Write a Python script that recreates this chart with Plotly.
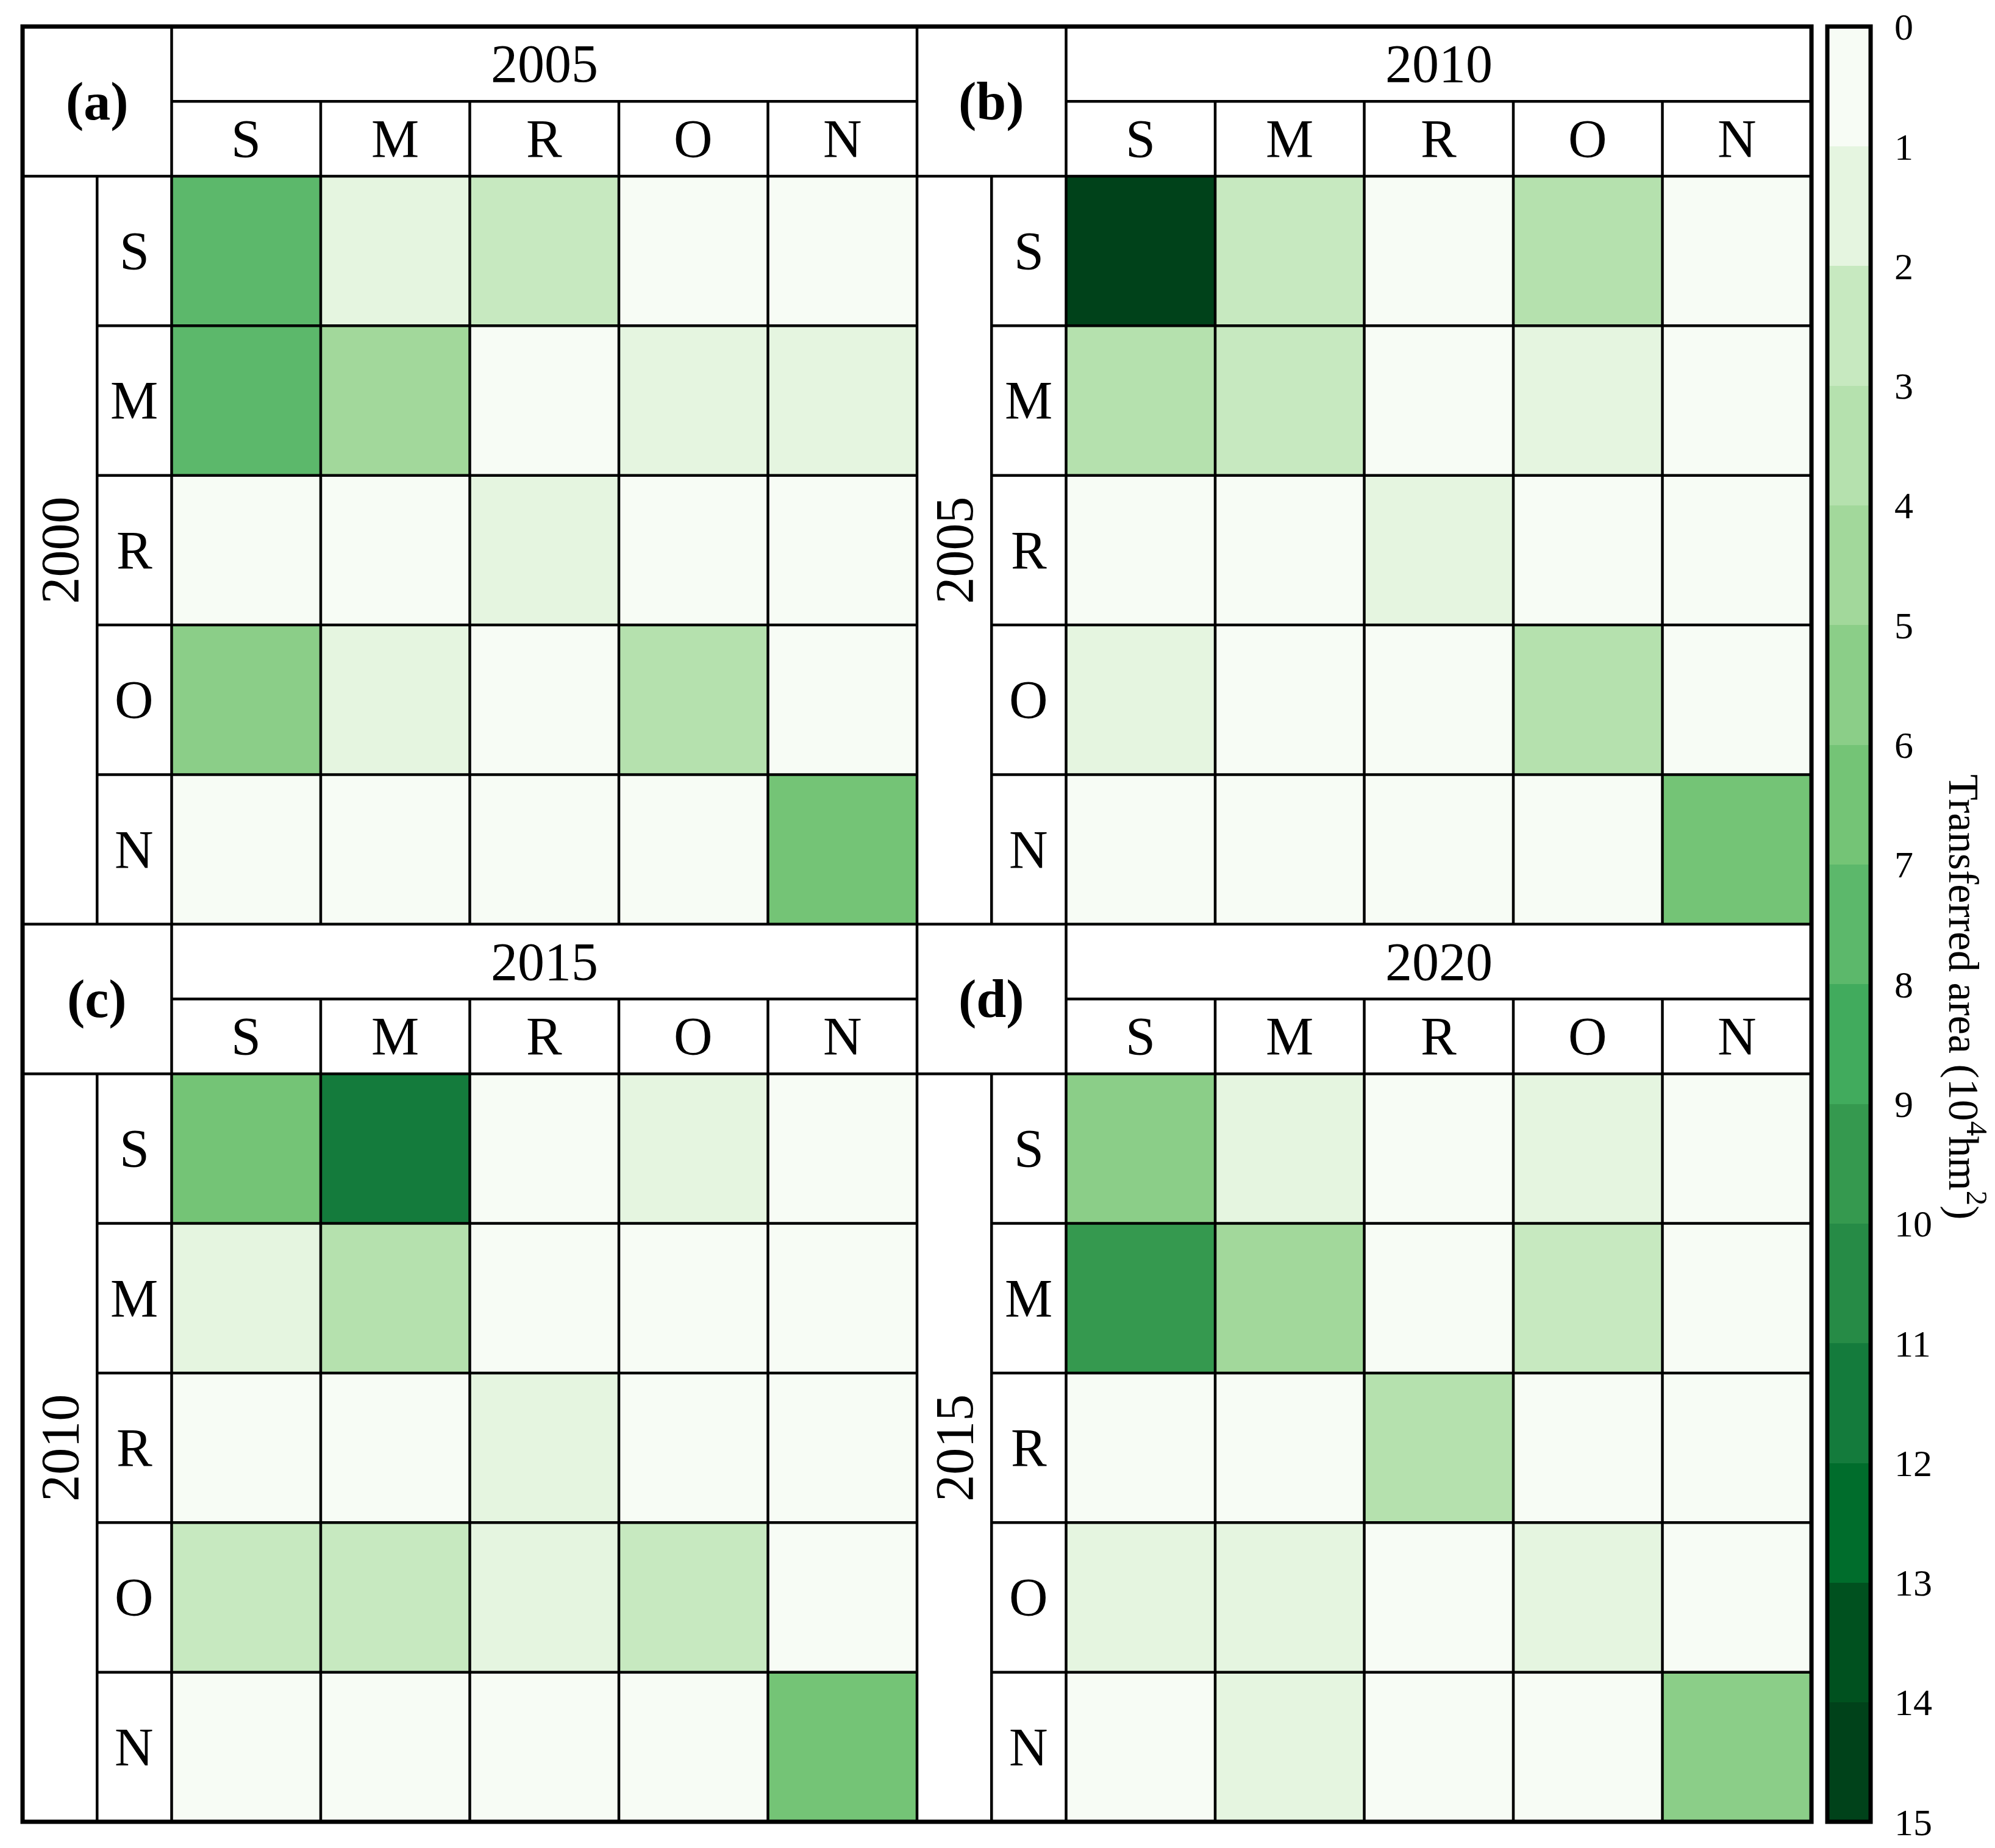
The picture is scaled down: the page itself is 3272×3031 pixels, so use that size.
import plotly.graph_objects as go

# land-use classes and period labels
classes = ["S", "M", "R", "O", "N"]
panel_letters = ["(a)", "(b)", "(c)", "(d)"]
from_years = ["2000", "2005", "2010", "2015"]
to_years = ["2005", "2010", "2015", "2020"]

# transfer matrices (10^4 hm2), rows = from class, cols = to class
mat_a = [
    [7.6, 1.4, 2.5, 0.4, 0.3],
    [7.7, 4.5, 0.4, 1.3, 1.2],
    [0.3, 0.4, 1.5, 0.3, 0.2],
    [5.6, 1.4, 0.3, 3.4, 0.4],
    [0.2, 0.3, 0.2, 0.3, 6.6],
]
mat_b = [
    [14.6, 2.5, 0.4, 3.3, 0.3],
    [3.4, 2.6, 0.3, 1.4, 0.4],
    [0.3, 0.3, 1.5, 0.4, 0.3],
    [1.5, 0.4, 0.3, 3.5, 0.4],
    [0.2, 0.3, 0.2, 0.3, 6.5],
]
mat_c = [
    [6.5, 11.6, 0.4, 1.3, 0.3],
    [1.4, 3.4, 0.3, 0.4, 0.3],
    [0.3, 0.4, 1.5, 0.3, 0.3],
    [2.4, 2.6, 1.5, 2.5, 0.4],
    [0.2, 0.3, 0.3, 0.4, 6.6],
]
mat_d = [
    [5.5, 1.4, 0.4, 1.5, 0.3],
    [9.6, 4.4, 0.4, 2.5, 0.3],
    [0.3, 0.4, 3.4, 0.3, 0.3],
    [1.4, 1.5, 0.4, 1.4, 0.3],
    [0.3, 1.3, 0.3, 0.4, 5.6],
]
matrices = [mat_a, mat_b, mat_c, mat_d]

# colorbar bins
cb_ticks = list(range(0, 16))
greens = [
    "#f7fcf5", "#e5f5e0", "#c7e9c0", "#b5e1ae", "#a2d89b",
    "#8bce88", "#74c476", "#5cb86b", "#41ab5d", "#35994f",
    "#268b46", "#147b3c", "#006d2c", "#00511f", "#00421a",
]

n_bins = len(greens)
colorscale = []
for i, c in enumerate(greens):
    colorscale.append([i / n_bins, c])
    colorscale.append([(i + 1) / n_bins, c])

FONT = "Liberation Serif"
W, H = 3272, 3031

# figure areas (paper fractions)
x_dom = [29 / W, 2963 / W]
cb_dom = [2989 / W, 3060 / W]
y_dom = [1 - 2980 / H, 1 - 35.5 / H]

fig = go.Figure()

# panel offsets in table units (each panel is 6 x 6: 1 header + 5 cells)
offsets = [(0, 0), (6, 0), (0, 6), (6, 6)]

shapes = []
annotations = []
thin = dict(color="black", width=4.5)

for p, (ox, oy) in enumerate(offsets):
    mat = matrices[p]
    xs = [ox + 1.5 + j for j in range(len(classes))]
    ys = [oy + 1.5 + i for i in range(len(classes))]
    fig.add_trace(go.Heatmap(
        x=xs, y=ys, z=mat, coloraxis="coloraxis",
        hovertemplate="%{z}<extra></extra>",
    ))

    # header / grid lines
    shapes.append(dict(type="line", x0=ox + 1, x1=ox + 1, y0=oy, y1=oy + 6, line=thin))
    shapes.append(dict(type="line", x0=ox + 0.5, x1=ox + 0.5, y0=oy + 1, y1=oy + 6, line=thin))
    shapes.append(dict(type="line", x0=ox, x1=ox + 6, y0=oy + 1, y1=oy + 1, line=thin))
    shapes.append(dict(type="line", x0=ox + 1, x1=ox + 6, y0=oy + 0.5, y1=oy + 0.5, line=thin))
    for k in range(1, 5):
        shapes.append(dict(type="line", x0=ox + 1 + k, x1=ox + 1 + k, y0=oy + 0.5, y1=oy + 6, line=thin))
        shapes.append(dict(type="line", x0=ox + 0.5, x1=ox + 6, y0=oy + 1 + k, y1=oy + 1 + k, line=thin))

    # texts
    annotations.append(dict(x=ox + 0.5, y=oy + 0.5, text="<b>%s</b>" % panel_letters[p],
                            font=dict(size=88)))
    annotations.append(dict(x=ox + 3.5, y=oy + 0.25, text=to_years[p], font=dict(size=88)))
    annotations.append(dict(x=ox + 0.25, y=oy + 3.5, text=from_years[p], textangle=-90,
                            font=dict(size=88)))
    for j, c in enumerate(classes):
        annotations.append(dict(x=ox + 1.5 + j, y=oy + 0.75, text=c, font=dict(size=88)))
        annotations.append(dict(x=ox + 0.75, y=oy + 1.5 + j, text=c, font=dict(size=88)))

# panel separators
shapes.append(dict(type="line", x0=6, x1=6, y0=0, y1=12, line=thin))
shapes.append(dict(type="line", x0=0, x1=12, y0=6, y1=6, line=thin))

for s in shapes:
    s.update(xref="x", yref="y", layer="above")
for a in annotations:
    a.update(xref="x", yref="y", showarrow=False, xanchor="center", yanchor="middle")
    a["font"]["family"] = FONT
    a["font"]["color"] = "black"

# thick outer frames (paper refs so they are not clipped)
thick = dict(color="black", width=7)
shapes.append(dict(type="rect", xref="paper", yref="paper", x0=x_dom[0], x1=x_dom[1],
                   y0=y_dom[0], y1=y_dom[1], line=thick, layer="above"))
shapes.append(dict(type="rect", xref="paper", yref="paper", x0=cb_dom[0], x1=cb_dom[1],
                   y0=y_dom[0], y1=y_dom[1], line=thick, layer="above"))

# colorbar drawn as its own heatmap so 0 sits on top
mids = [t + 0.5 for t in cb_ticks[:-1]]
fig.add_trace(go.Heatmap(
    x=[0], y=mids, z=[[m] for m in mids], coloraxis="coloraxis",
    xaxis="x2", yaxis="y2", hoverinfo="skip",
))

annotations.append(dict(
    xref="paper", yref="paper", x=3218 / W, y=1 - 1627 / H, showarrow=False,
    xanchor="center", yanchor="middle",
    text="Transferred area (10<sup>4</sup>hm<sup>2</sup>)", textangle=90,
    font=dict(family=FONT, size=70, color="black"),
))

fig.update_layout(
    width=W, height=H,
    margin=dict(l=0, r=0, t=0, b=0, autoexpand=False),
    paper_bgcolor="white", plot_bgcolor="white",
    coloraxis=dict(colorscale=colorscale, cmin=0, cmax=15, showscale=False),
    xaxis=dict(domain=x_dom, range=[0, 12], visible=False, fixedrange=True),
    yaxis=dict(domain=y_dom, range=[12, 0], visible=False, fixedrange=True),
    xaxis2=dict(domain=cb_dom, range=[-0.5, 0.5], visible=False, anchor="y2"),
    yaxis2=dict(domain=y_dom, range=[15, 0], anchor="x2", side="right",
                tickvals=cb_ticks, ticktext=[str(t) for t in cb_ticks],
                ticks="", showgrid=False, zeroline=False, showline=False,
                ticklabelstandoff=38, automargin=False, ticklabeloverflow="allow",
                tickfont=dict(family=FONT, size=62, color="black")),
    shapes=shapes,
    annotations=annotations,
    showlegend=False,
)

fig.write_html("out.html")
